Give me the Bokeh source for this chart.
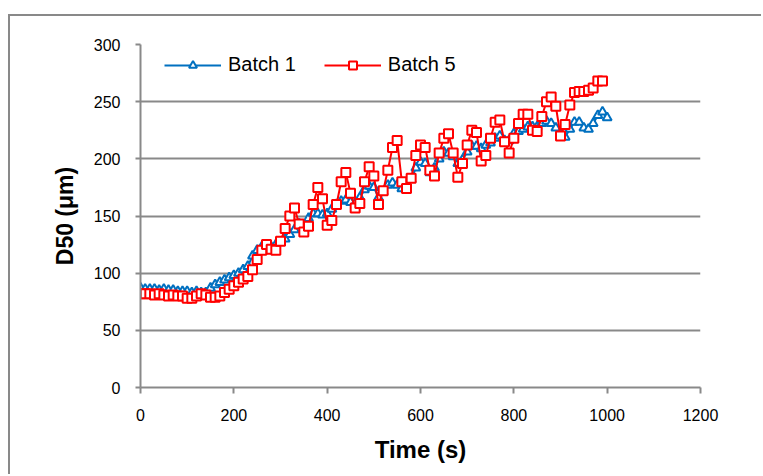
from bokeh.plotting import figure
from bokeh.models import Range1d, FixedTicker, Legend, LegendItem
from bokeh.embed import file_html
from bokeh.resources import INLINE

# ---------------- data ----------------
time_b1 = list(range(0, 1001, 10))
d50_b1 = [87, 86, 86, 86, 85, 86, 85, 85, 84, 84,
          84, 83, 84, 83, 83, 87, 90, 92, 94, 96,
          98, 100, 103, 106, 115, 120, 123, 124, 123, 125,
          127, 130, 134, 138, 143, 141, 148, 152, 152, 151,
          152, 156, 160, 163, 164, 162, 161, 166, 173, 176,
          175, 166, 171, 177, 179, 177, 174, 176, 182, 192,
          197, 196, 188, 192, 200, 206, 205, 202, 196, 199,
          206, 211, 211, 209, 212, 214, 218, 220, 216, 216,
          222, 224, 226, 228, 228, 228, 231, 233, 231, 227,
          222, 219, 226, 232, 232, 227, 226, 231, 238, 241,
          236]

time_b5 = list(range(0, 991, 10))
d50_b5 = [82, 82, 82, 81, 82, 81, 80, 81, 80, 80,
          78, 78, 80, 82, 81, 79, 79, 80, 83, 86,
          89, 92, 95, 97, 103, 112, 120, 125, 121, 120,
          128, 139, 150, 157, 143, 136, 141, 160, 175, 165,
          142, 146, 160, 180, 188, 170, 157, 161, 180, 193,
          185, 160, 172, 190, 210, 216, 180, 174, 183, 203,
          212, 210, 190, 185, 205, 218, 222, 205, 184, 196,
          212, 225, 223, 198, 203, 218, 232, 234, 215, 205,
          218, 231, 239, 239, 225, 224, 237, 250, 254, 246,
          220, 230, 247, 258, 259, 259, 260, 262, 268, 268]

x_ticks = [0, 200, 400, 600, 800, 1000, 1200]
y_ticks = [0, 50, 100, 150, 200, 250, 300]
series_names = ["Batch 1", "Batch 5"]

BLUE = "#0070C0"
RED = "#FF0000"
GRAY = "#898989"
FONT = "Liberation Sans"

W, H = 753, 460
p = figure(width=W, height=H, output_backend="svg", toolbar_location=None,
           x_range=Range1d(0, 1200), y_range=Range1d(0, 300),
           min_border_left=130, min_border_right=63,
           min_border_top=28, min_border_bottom=89)
# place the chart area like the reference and draw its outer border (top/left visible)
p.margin = (16, 0, 0, 10)
p.styles = {"box-shadow": "-2px -2px 0px 0px " + GRAY}
p.outline_line_color = None
p.background_fill_color = "white"
p.border_fill_color = "white"

# axes
for ax in (p.xaxis[0], p.yaxis[0]):
    ax.axis_line_color = GRAY
    ax.axis_line_width = 2
    ax.major_tick_line_color = GRAY
    ax.major_tick_line_width = 2
    ax.major_tick_in = 0
    ax.minor_tick_line_color = None
    ax.major_label_text_font = FONT
    ax.major_label_text_font_size = "16px"
    ax.major_label_text_color = "#000000"
    ax.axis_label_text_font = FONT
    ax.axis_label_text_font_style = "bold"
    ax.axis_label_text_color = "#000000"

p.xaxis.ticker = FixedTicker(ticks=x_ticks)
p.yaxis.ticker = FixedTicker(ticks=y_ticks)
p.xaxis.major_tick_out = 6
p.yaxis.major_tick_out = 5
p.xaxis.major_label_standoff = 15
p.yaxis.major_label_standoff = 15

p.xaxis.axis_label = "Time (s)"
p.xaxis.axis_label_text_font_size = "24px"
p.xaxis.axis_label_standoff = 12

p.yaxis.axis_label = "D50 (μm)"
p.yaxis.axis_label_text_font_size = "23px"
p.yaxis.axis_label_standoff = 13

p.xgrid.grid_line_color = None
p.ygrid.grid_line_color = GRAY
p.ygrid.grid_line_width = 2

# series
l1 = p.line(time_b1, d50_b1, line_color=BLUE, line_width=2)
m1 = p.scatter(time_b1, d50_b1, marker="triangle", size=9, line_color=BLUE,
               line_width=2, fill_color="white")
l5 = p.line(time_b5, d50_b5, line_color=RED, line_width=2)
m5 = p.scatter(time_b5, d50_b5, marker="square", size=9, line_color=RED,
               line_width=2, fill_color="white")

legend = Legend(items=[LegendItem(label=series_names[0], renderers=[l1, m1]),
                       LegendItem(label=series_names[1], renderers=[l5, m5])],
                orientation="horizontal", location=(24, 311))
legend.background_fill_alpha = 0
legend.border_line_color = None
legend.padding = 9
legend.margin = 0
legend.spacing = 28
legend.glyph_width = 57
legend.glyph_height = 20
legend.label_height = 20
legend.label_standoff = 7
legend.label_text_font = FONT
legend.label_text_font_size = "20px"
legend.label_text_color = "#000000"
p.add_layout(legend)

open("out.html", "w").write(file_html(p, INLINE))
